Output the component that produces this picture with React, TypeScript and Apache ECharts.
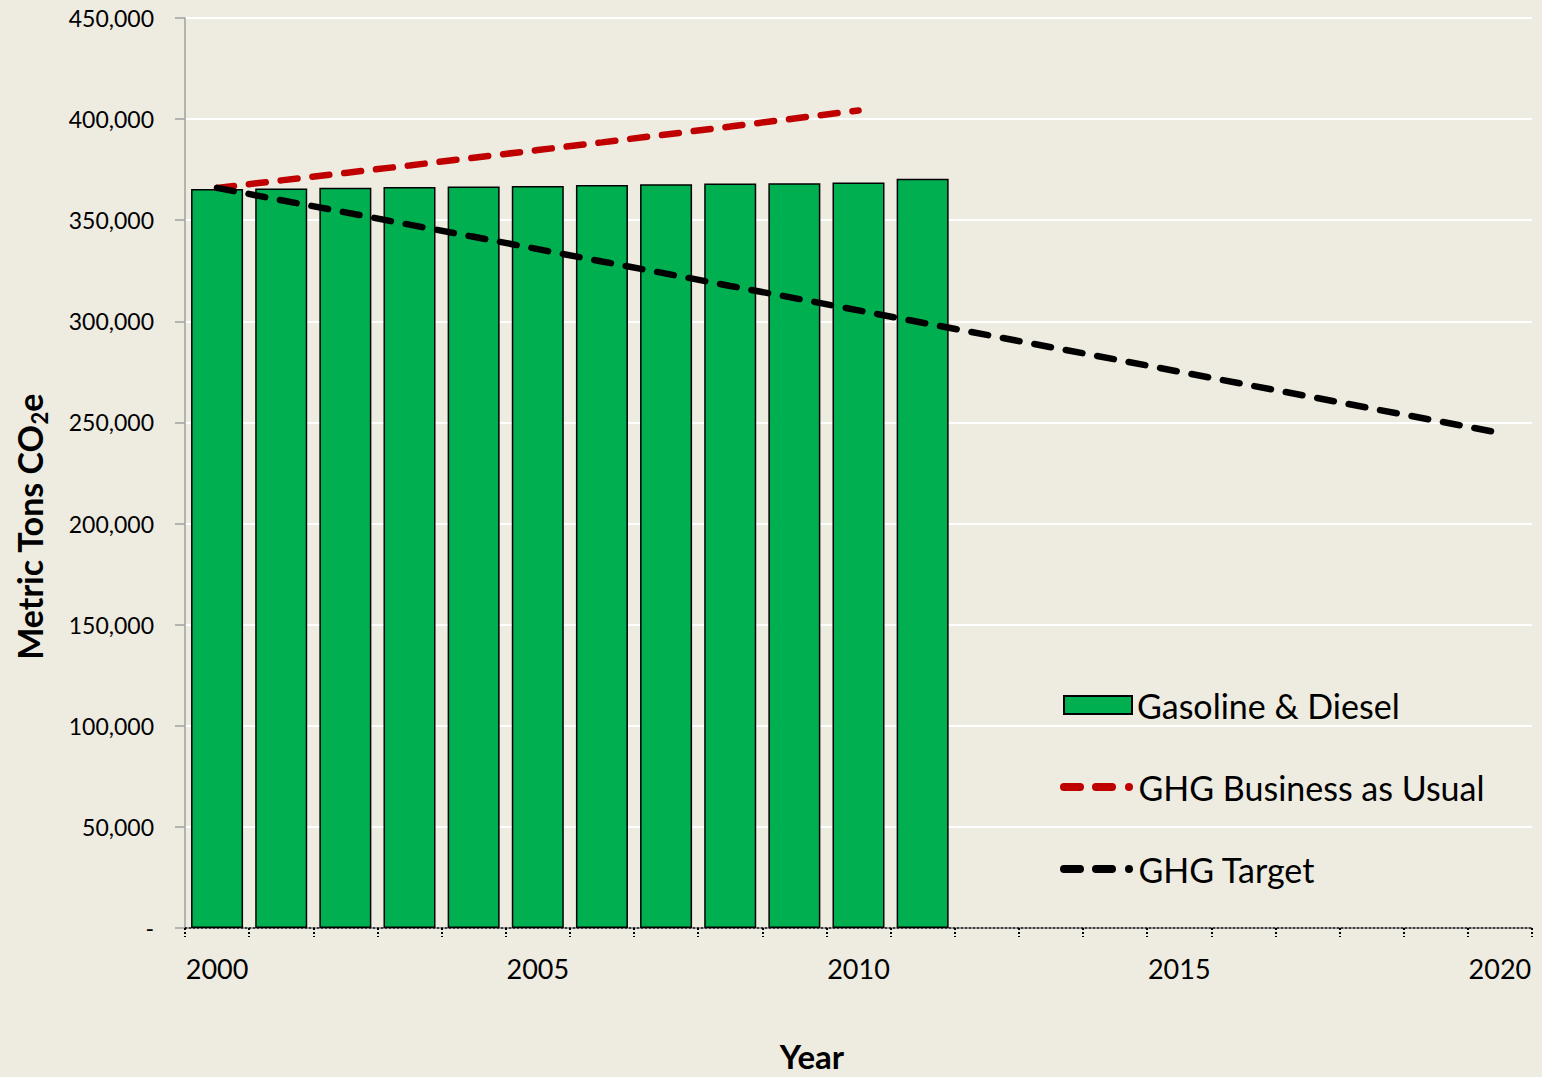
import React, { useEffect, useRef } from "react";
import * as echarts from "echarts";

const years = [
  "2000", "2001", "2002", "2003", "2004", "2005", "2006", "2007", "2008", "2009", "2010",
  "2011", "2012", "2013", "2014", "2015", "2016", "2017", "2018", "2019", "2020",
];

const gasolineDiesel = [
  365400, 365700, 366100, 366400, 366700, 366900, 367400, 367800, 368100, 368300, 368600,
  370500, null, null, null, null, null, null, null, null, null,
];

const ghgBusinessAsUsual = [
  366000, 369700, 373400, 377100, 380900, 384700, 388500, 392400, 396300, 400300, 404300,
  null, null, null, null, null, null, null, null, null, null,
];

const ghgTarget = [
  366000, 359900, 353900, 347800, 341800, 335700, 329600, 323600, 317500, 311500, 305400,
  299300, 293300, 287200, 281200, 275100, 269000, 263000, 256900, 250900, 244800,
];

const FONT = "Lato, 'Open Sans', sans-serif";

const DASH_ICON =
  "path://M4 0 H20 A4 4 0 0 1 20 8 H4 A4 4 0 0 1 4 0 Z " +
  "M36 0 H52 A4 4 0 0 1 52 8 H36 A4 4 0 0 1 36 0 Z " +
  "M69 0 A4 4 0 0 1 69 8 A4 4 0 0 1 69 0 Z";

export default function App() {
  const ref = useRef<HTMLDivElement>(null);
  useEffect(() => {
    document.body.style.margin = "0";
    const chart = echarts.init(ref.current!, null, { renderer: "svg" });
    const legendText = { fontSize: 34, color: "#000", lineHeight: 34, fontFamily: FONT };
    const option: any = {
      animation: false,
      backgroundColor: "#EEEBE0",
      textStyle: { fontFamily: FONT },
      grid: { left: 185, right: 10, top: 18, bottom: 149, containLabel: false },
      legend: [
        {
          orient: "vertical",
          left: 1063,
          top: 688,
          padding: 0,
          itemWidth: 68,
          itemHeight: 18,
          textStyle: legendText,
          data: [{ name: "Gasoline & Diesel", icon: "rect" }],
        },
        {
          orient: "vertical",
          left: 1060,
          top: 770,
          padding: 0,
          itemWidth: 74,
          itemHeight: 8,
          itemGap: 48,
          symbolKeepAspect: true,
          textStyle: legendText,
          data: [
            { name: "GHG Business as Usual", icon: DASH_ICON, itemStyle: { color: "#C00000", borderWidth: 0 } },
            { name: "GHG Target", icon: DASH_ICON, itemStyle: { color: "#000000", borderWidth: 0 } },
          ],
        },
      ],
      xAxis: {
        type: "category",
        data: years,
        boundaryGap: true,
        axisLine: { show: true, lineStyle: { color: "#000", width: 1.5, type: [2, 2] } },
        axisTick: {
          show: true,
          interval: 0,
          alignWithLabel: false,
          length: 9,
          lineStyle: { color: "#000", width: 2, type: [2, 2] },
        },
        axisLabel: { interval: 4, fontSize: 27, color: "#000", margin: 27, fontFamily: FONT },
        splitLine: { show: false },
      },
      yAxis: {
        type: "value",
        min: 0,
        max: 450000,
        interval: 50000,
        axisLine: { show: true, lineStyle: { color: "#A0A0A0", width: 1.5 } },
        axisTick: { show: true, length: 10, lineStyle: { color: "#A0A0A0", width: 1.5 } },
        axisLabel: {
          fontSize: 23,
          color: "#000",
          margin: 31,
          fontFamily: FONT,
          formatter: (v: number) => (v === 0 ? "-" : v.toLocaleString("en-US")),
        },
        splitLine: { show: true, lineStyle: { color: "#FFFFFF", width: 2 } },
      },
      series: [
        {
          name: "Gasoline & Diesel",
          type: "bar",
          data: gasolineDiesel,
          barWidth: 52,
          itemStyle: { color: "#00B050", borderColor: "#000", borderWidth: 1.5 },
          z: 2,
        },
        {
          name: "GHG Business as Usual",
          type: "line",
          data: ghgBusinessAsUsual,
          symbol: "none",
          lineStyle: { color: "#C00000", width: 6.5, type: [17, 15], cap: "round" },
          itemStyle: { color: "#C00000" },
          z: 3,
        },
        {
          name: "GHG Target",
          type: "line",
          data: ghgTarget,
          symbol: "none",
          lineStyle: { color: "#000000", width: 6.5, type: [17, 15], cap: "round" },
          itemStyle: { color: "#000000" },
          z: 4,
        },
      ],
      graphic: [
        {
          type: "text",
          x: 812,
          y: 1056,
          style: {
            text: "Year",
            fontSize: 33,
            fontWeight: "bold",
            fontFamily: FONT,
            fill: "#000",
            align: "center",
            verticalAlign: "middle",
          },
        },
        {
          type: "text",
          x: 29,
          y: 527,
          rotation: Math.PI / 2,
          style: {
            text: "{a|Metric Tons CO}{b|2}{a|e}",
            align: "center",
            verticalAlign: "middle",
            fontFamily: FONT,
            rich: {
              a: { fontSize: 34, fontWeight: "bold", fill: "#000", lineHeight: 42, fontFamily: FONT },
              b: {
                fontSize: 22,
                fontWeight: "bold",
                fill: "#000",
                lineHeight: 22,
                verticalAlign: "bottom",
                fontFamily: FONT,
              },
            },
          },
        },
      ],
    };
    chart.setOption(option);
    return () => chart.dispose();
  }, []);
  return (
    <div
      ref={ref}
      style={{ position: "absolute", left: 0, top: 0, width: 1542, height: 1077 }}
    />
  );
}
